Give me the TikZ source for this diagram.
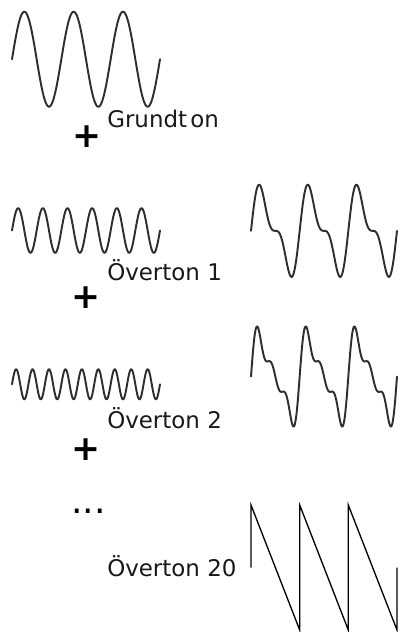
\documentclass[tikz,border=0pt]{standalone}
\usepackage{fontspec}
\setmainfont{DejaVu Sans}
\begin{document}
\begin{tikzpicture}[x=0.75pt,y=-0.75pt,
  wave/.style={line width=1.45pt, draw=black!82, line join=round, line cap=round},
  saw/.style={line width=1pt, draw=black, line join=miter},
  lbl/.style={inner sep=0pt, anchor=base west, font=\fontsize{17.2pt}{19pt}\selectfont, text=black!90},
  plus/.style={inner sep=0pt, anchor=center, font=\fontsize{26pt}{28pt}\selectfont\bfseries}]
\useasboundingbox (0,0) rectangle (400,632);
% left column: individual partials
\draw[wave] plot[domain=12:160, samples=240, smooth] (\x, {59.2 - 47.5*sin((\x-12)/49.333*360)});
\draw[wave] plot[domain=12:160, samples=400, smooth] (\x, {230.5 - 22.3*sin((\x-12)/148*2160)});
\draw[wave] plot[domain=12:160, samples=500, smooth] (\x, {384.3 - 15*sin((\x-12)/148*3240)});
% labels
\node[lbl] (g)  at (107,127.7) {Grundt\kern2.5pt on};
\node[lbl] (o1) at (107,280) {Överton 1};
\node[lbl] (o2) at (107,428.3) {Överton 2};
\node[lbl] (o20) at (107,576.7) {Överton 20};
% plus signs and ellipsis
\node[plus] (p1) at (87,137) {+};
\node[plus] (p2) at (86.5,298) {+};
\node[plus] (p3) at (86.5,450) {+};
\node[inner sep=0pt, anchor=center, font=\fontsize{27pt}{29pt}\selectfont] (dots) at (88.5,511) {...};
% right column: sums
\draw[wave] plot[domain=251:397, samples=300, smooth]
  (\x, {230.8 - 35.5*(sin((\x-251)/146*1080) + 0.5*sin(2*(\x-251)/146*1080))});
\draw[wave] plot[domain=251:397, samples=360, smooth]
  (\x, {376.5 - 34.7*(sin((\x-251)/146*1080) + 0.5*sin(2*(\x-251)/146*1080) + sin(3*(\x-251)/146*1080)/3)});
\draw[saw] (251,567.5) -- (251,505) -- (299.7,630) -- (299.7,505) -- (348.3,630) -- (348.3,505) -- (397,630) -- (397,567.5);
\end{tikzpicture}
\end{document}
